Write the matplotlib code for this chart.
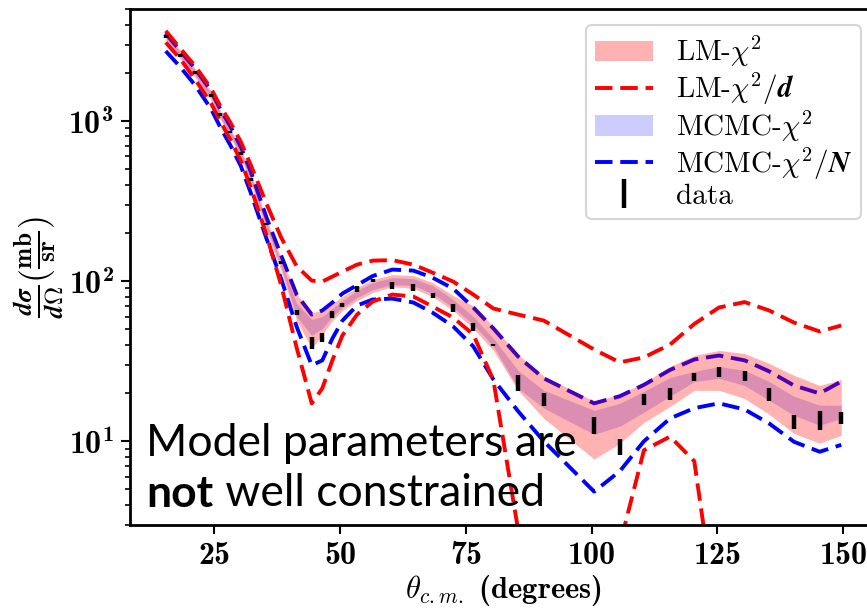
import io
import numpy as np
import matplotlib
matplotlib.use("Agg")
import matplotlib.pyplot as plt
from matplotlib.mathtext import math_to_image

plt.rcParams['mathtext.fontset'] = 'cm'
plt.rcParams['font.family'] = 'cmb10'
plt.rcParams['axes.formatter.use_mathtext'] = True


def mathtext_ok(s):
    try:
        math_to_image(s, io.BytesIO(), format='png')
        return True
    except Exception:
        return False


BOLD = mathtext_ok(r'$\boldsymbol{\chi^2/N}$')

theta = [15.4, 18.3, 21.2, 24.4, 26.2, 28.2, 30.3, 32.3, 35.4, 38.3, 41.4, 44.4, 46.5, 48.5,
         50.5, 53.4, 56.5, 60.4, 64.6, 68.4, 72.5, 76.5, 80.5, 85.4, 90.5, 100.5, 105.6, 110.4,
         115.6, 120.4, 125.3, 130.4, 135.3, 140.2, 145.3, 149.6]

data_xs = [3350, 2577, 2010, 1438, 1101, 854, 629, 431, 226, 130, 63.4, 41.4, 44.5, 62.1, 70.6,
           89.8, 100.7, 94.2, 91.2, 80.9, 68.1, 51.9, 40.1, 23.3, 18.3, 12.6, 9.28, 18.3, 19.7,
           25.2, 27.2, 25.7, 19.7, 13.3, 13.6, 14.1]
data_relerr = [0.02, 0.02, 0.02, 0.02, 0.02, 0.02, 0.02, 0.02, 0.015, 0.02, 0.035, 0.085, 0.07,
               0.05, 0.03, 0.045, 0.02, 0.05, 0.05, 0.035, 0.055, 0.055, 0.015, 0.11, 0.09, 0.12,
               0.11, 0.085, 0.085, 0.055, 0.07, 0.07, 0.09, 0.1, 0.14, 0.085]

lm_hi = [3584, 2770, 2139, 1538, 1171, 904, 669, 474, 245, 140, 83, 63.5, 66, 72.4, 80.1, 91.1,
         102.2, 109.8, 108.2, 97.9, 81.2, 70, 52, 34.8, 25.5, 17.8, 19.6, 23.2, 29.3, 34.3, 36.9,
         35.3, 30.6, 25.8, 22.3, 24.3]
lm_lo = [3197, 2434, 1880, 1351, 1029, 795, 588, 411, 206, 116.3, 56.7, 38.0, 46.4, 56.7, 65.5,
         75.6, 84.8, 92.4, 89.8, 80.1, 65.5, 50.6, 36.9, 20.8, 13.9, 7.73, 9.72, 13.1, 16.5, 20.8,
         20.8, 18.5, 14.7, 11.2, 9.72, 10.9]

mc_hi = [3487, 2675, 2065, 1484, 1131, 873, 646, 454, 232, 131.4, 72.4, 57.6, 60.1, 67.4, 75.6,
         87.3, 97.9, 105.1, 103.6, 93.8, 76.7, 60.1, 43.8, 27.7, 20.8, 15.6, 17.25, 20.5, 25.0,
         27.3, 29.3, 27.7, 23.6, 19.1, 16.8, 16.8]
mc_lo = [3283, 2519, 1945, 1398, 1065, 823, 608, 428, 218, 123.8, 60.1, 45.8, 50.6, 60.1, 68.4,
         78.9, 88.5, 95.1, 93.8, 83.6, 68.4, 53.6, 39.1, 21.4, 16.1, 11.06, 12.4, 15.2, 19.1,
         23.6, 24.7, 22.3, 18.0, 14.5, 12.6, 13.9]

lmd_hi = [3652, 2830, 2210, 1596, 1244, 982, 742, 530, 305, 188, 124, 100.7, 99.3, 106.7, 114.6,
          126.7, 134.2, 135.2, 126.7, 113, 99.3, 82.4, 67.4, 61.8, 56.7, 37.4, 31.1, 33.4, 40.2,
          54.0, 68.4, 74.0, 65.5, 55.1, 48.5, 52.8]
lmd_lo = [3093, 2434, 1827, 1290, 1000, 769, 566, 385, 195, 95.1, 38.5, 17.25, 21.4, 32.0, 45.8,
          61.8, 74.5, 82.4, 80.1, 69.4, 59.2, 46.4, 24.0, 2.8, 0.8, 0.4, 2.25, 8.79, 10.7, 7.51,
          0.63, 0.4, 0.3, 0.3, 0.3, 0.3]

mcn_hi = [3533, 2730, 2130, 1540, 1190, 930, 690, 483, 250, 145, 82.4, 61.8, 65.5, 73.5, 83.6,
          94.4, 107.5, 118, 116.3, 105.1, 89.8, 68.4, 50.6, 33.8, 24.7, 17.25, 19.1, 22.5, 27.9,
          32.4, 34.3, 32.0, 27.3, 22.3, 19.9, 23.6]
mcn_lo = [2730, 2170, 1676, 1190, 918, 709, 525, 355, 185, 104, 52, 29.8, 32.0, 43.8, 56.7,
          70.4, 76.7, 77.8, 73.5, 63.6, 52.1, 39.1, 24.3, 15.4, 10.0, 4.85, 6.5, 10.0, 13.9,
          16.1, 17.25, 15.8, 12.9, 9.93, 8.6, 9.5]

x_ticks = [25, 50, 75, 100, 125, 150]

if BOLD:
    legend_labels = [r'LM-$\boldsymbol{\chi^2}$', r'LM-$\boldsymbol{\chi^2/d}$',
                     r'MCMC-$\boldsymbol{\chi^2}$', r'MCMC-$\boldsymbol{\chi^2/N}$', 'data']
    xlab = r'$\boldsymbol{\theta_{c.m.}}$ (degrees)'
    ylab = r'$\frac{\boldsymbol{d\sigma}}{\boldsymbol{d\Omega}}(\frac{\mathbf{mb}}{\mathbf{sr}})$'
else:
    legend_labels = [r'LM-$\chi^{\mathbf{2}}$', r'LM-$\chi^{\mathbf{2}}/d$',
                     r'MCMC-$\chi^{\mathbf{2}}$', r'MCMC-$\chi^{\mathbf{2}}/N$', 'data']
    xlab = r'$\theta_{c.m.}$ (degrees)'
    ylab = r'$\frac{d\sigma}{d\Omega}(\frac{\mathbf{mb}}{\mathbf{sr}})$'

fig = plt.figure(figsize=(8.67, 6.11), dpi=100)
ax = fig.add_axes([130 / 867, 86 / 611, 747 / 867, 516 / 611])

dash = (0, (4.5, 2.0))
lw = 2.8
l_mcn, = ax.plot(theta, mcn_hi, color='blue', lw=lw, linestyle=dash, zorder=2)
ax.plot(theta, mcn_lo, color='blue', lw=lw, linestyle=dash, zorder=2)
l_lmd, = ax.plot(theta, lmd_hi, color='red', lw=lw, linestyle=dash, zorder=2.1)
ax.plot(theta, lmd_lo, color='red', lw=lw, linestyle=dash, zorder=2.1)
f_mc = ax.fill_between(theta, mc_lo, mc_hi, color='blue', alpha=0.2, lw=0, zorder=3)
f_lm = ax.fill_between(theta, lm_lo, lm_hi, color='red', alpha=0.3, lw=0, zorder=3.1)

xs = np.array(data_xs)
err = xs * np.array(data_relerr)
eb = ax.errorbar(theta, xs, yerr=err, fmt='none', ecolor='black', elinewidth=3.2, capsize=0,
                 zorder=4)

ax.set_yscale('log')
ax.set_xlim(8.3, 156.7)
ax.set_ylim(3, 5000)
ax.set_xticks(x_ticks)

for s in ax.spines.values():
    s.set_linewidth(2.0)
ax.tick_params(which='major', length=6.5, width=1.5, labelsize=23, pad=5)
ax.tick_params(which='minor', length=3.5, width=1.2)
ax.tick_params(axis='x', which='minor', bottom=False)

ax.set_xlabel(xlab, fontsize=22, labelpad=2)
ax.set_ylabel(ylab, fontsize=26, labelpad=2)

leg = ax.legend([f_lm, l_lmd, f_mc, l_mcn, eb], legend_labels,
                loc='upper right', prop={'family': 'cmr10', 'size': 21}, borderaxespad=0.55,
                borderpad=0.3, labelspacing=0.06, handlelength=2.0, handletextpad=0.8)
leg.get_frame().set_linewidth(1.5)

t1 = ax.text(0.022, 0.133, 'Model parameters are', transform=ax.transAxes, fontsize=32,
             family='Lato', va='baseline', zorder=5)
t2 = ax.text(0.022, 0.035, 'not', transform=ax.transAxes, fontsize=32, family='Lato',
             fontweight='bold', va='baseline', zorder=5)
ax.annotate(' well constrained', xy=(1, 0), xycoords=t2, va='bottom', ha='left', fontsize=32,
            family='Lato', zorder=5)

fig.savefig('out.png', dpi=100)
